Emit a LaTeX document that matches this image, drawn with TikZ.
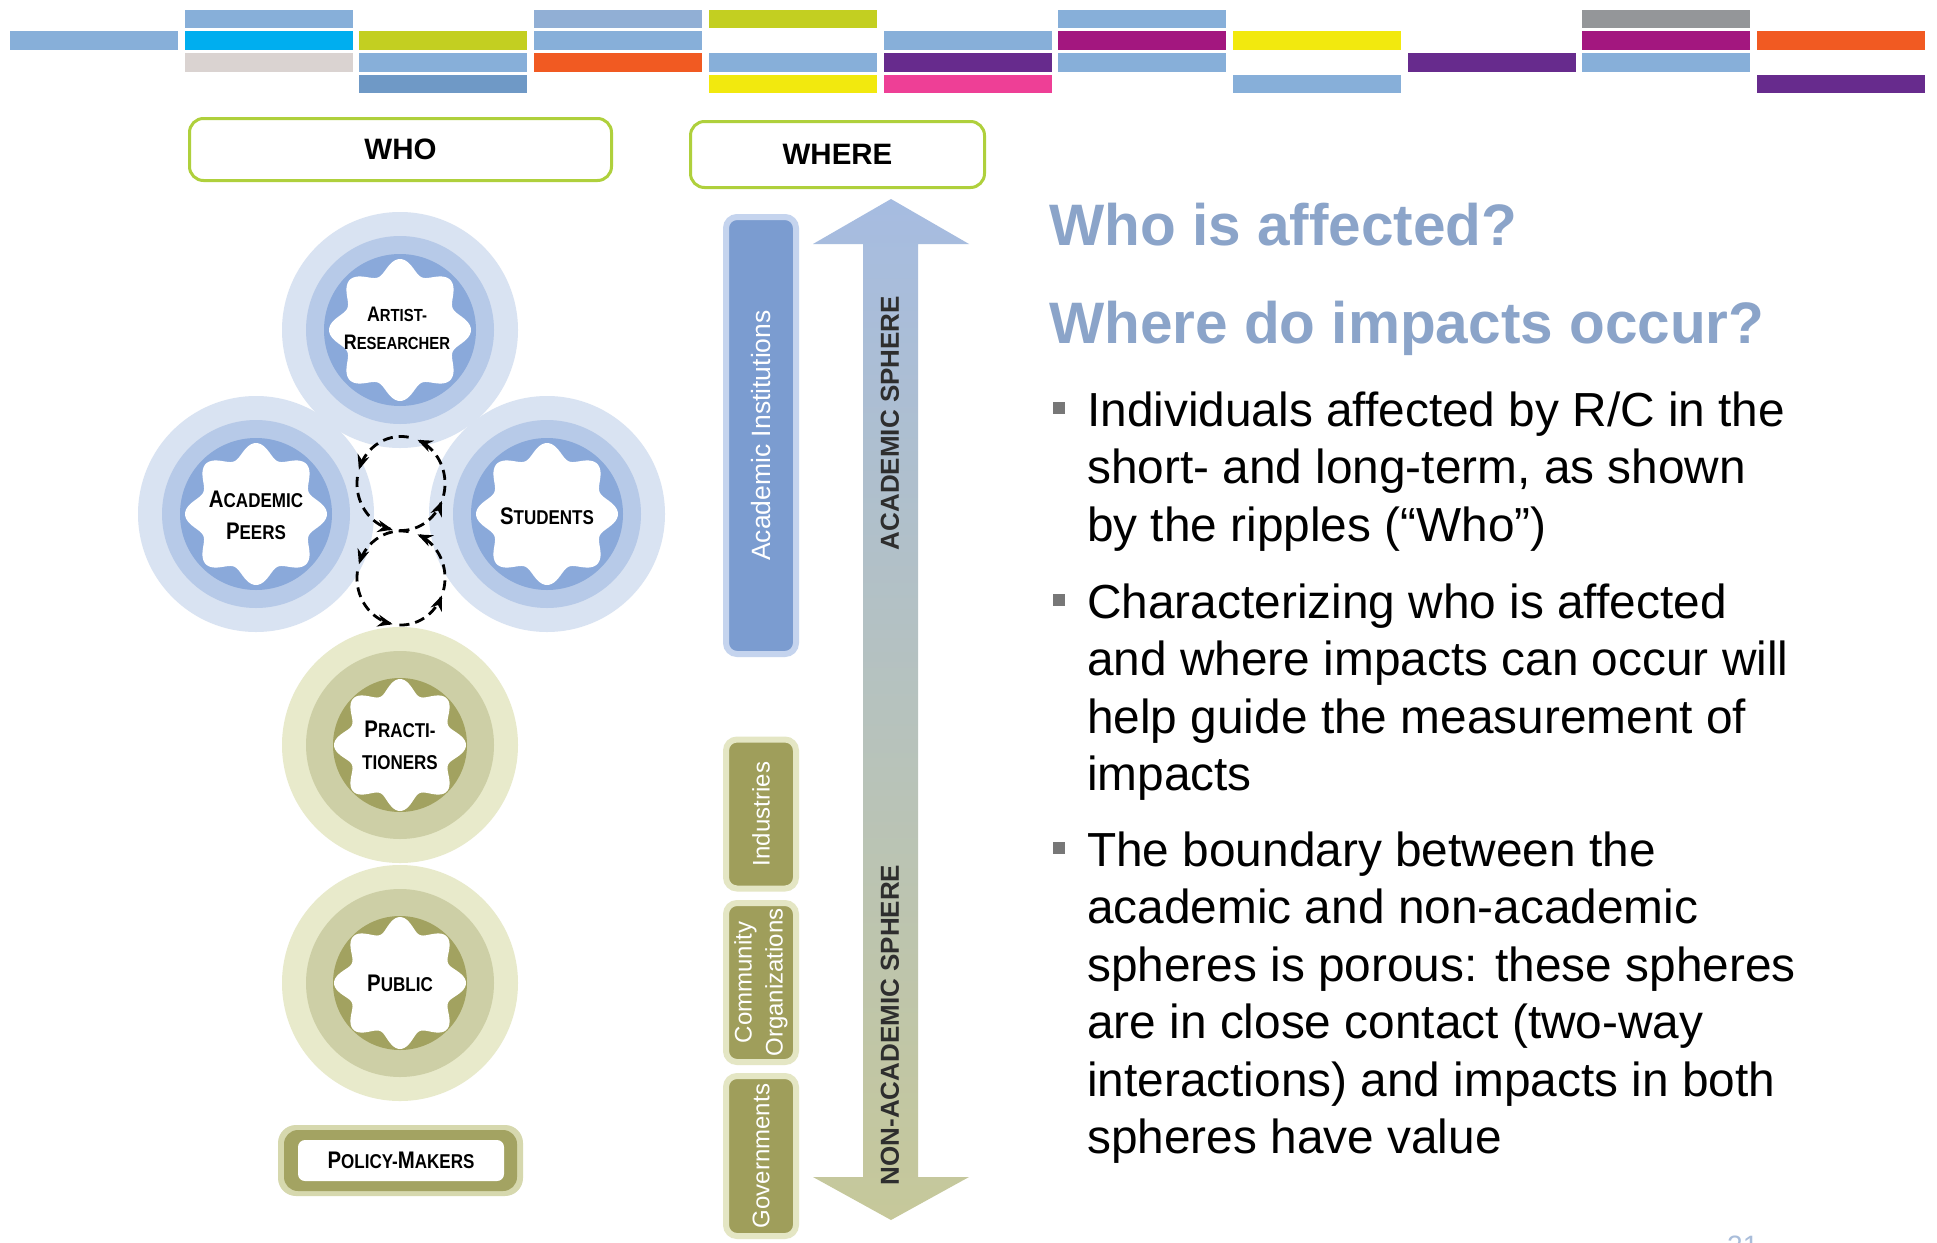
\documentclass[tikz,border=0pt]{standalone}
\usepackage{fontspec}
\setmainfont{Liberation Sans}
\newfontfamily\labfont[FakeStretch=0.85]{Liberation Sans}
\usetikzlibrary{arrows.meta}
\definecolor{lblue}{HTML}{87AFD9}
\definecolor{cyanb}{HTML}{00AEEF}
\definecolor{greyp}{HTML}{DAD3D1}
\definecolor{lgreen}{HTML}{C3CF21}
\definecolor{mblue}{HTML}{6F99C6}
\definecolor{bgrey}{HTML}{91AFD5}
\definecolor{orng}{HTML}{F15A22}
\definecolor{yell}{HTML}{F2E90E}
\definecolor{purp}{HTML}{672B8D}
\definecolor{pinkb}{HTML}{EE3F96}
\definecolor{mag}{HTML}{A3177F}
\definecolor{gry}{HTML}{949699}
\definecolor{blueOut}{HTML}{D9E3F2}
\definecolor{blueRing}{HTML}{B7CAE8}
\definecolor{blueIn}{HTML}{8AA9DA}
\definecolor{grnOut}{HTML}{E8EACB}
\definecolor{grnRing}{HTML}{CDCFA6}
\definecolor{grnIn}{HTML}{A2A260}
\definecolor{polyOut}{HTML}{D6D8AE}
\definecolor{polyBand}{HTML}{A3A362}
\definecolor{aiOut}{HTML}{C5D4EE}
\definecolor{aiIn}{HTML}{7B9CD0}
\definecolor{olOut}{HTML}{E4E6C4}
\definecolor{olIn}{HTML}{9F9E5B}
\definecolor{limeb}{HTML}{AFD03C}
\definecolor{headc}{HTML}{8BA4C9}
\definecolor{bulletc}{HTML}{777777}
\definecolor{arrTop}{HTML}{A6BCE1}
\definecolor{arrMid}{HTML}{B6C2C8}
\definecolor{arrBot}{HTML}{C6C89A}
\definecolor{sphtxt}{HTML}{2E2E2E}
\definecolor{pgnum}{HTML}{A9BDDA}

\newcommand\SC[2]{{\fontsize{24}{32}\selectfont #1}{\fontsize{20}{32}\selectfont #2}}
\newcommand\SCa[2]{{\fontsize{21}{28}\selectfont #1}{\fontsize{17.5}{28}\selectfont #2}}

% x, y, outer colour, ring colour, disc colour, disc radius, star radius
\newcommand\ripple[7]{%
  \fill[#3] (#1,#2) circle[radius=118pt];
  \fill[#4] (#1,#2) circle[radius=94pt];
  \fill[#5] (#1,#2) circle[radius=#6pt];
  \fill[white] plot[domain=0:360,samples=181] ({#1+(#7+7*cos(8*\x))*cos(\x)},{#2+(#7+7*cos(8*\x))*sin(\x)}) -- cycle;
}
\newcommand\looparcs[2]{%
  \foreach \a/\b in {-15/68, 80/163, 172/259, 268/338}
    \draw[loopst] plot[domain=\a:\b, samples=30] ({#1+44*cos(\x)},{#2-47*sin(\x)});
}

\begin{document}
\begin{tikzpicture}[x=1pt,y=-1pt,
  lab/.style={font=\labfont\bfseries\fontsize{24}{32}\selectfont, align=center, inner sep=0pt},
  headbox/.style={draw=limeb, line width=3pt, rounded corners=14pt, fill=white, inner sep=0pt,
    font=\bfseries\fontsize{29.5}{30}\selectfont},
  sidebox/.style={rounded corners=11pt, line width=6pt, rotate=90, inner sep=0pt, text=white,
    align=center, font=\fontsize{24}{31}\selectfont},
  sph/.style={rotate=90, inner sep=0pt, text=sphtxt, font=\bfseries\fontsize{26}{26}\selectfont},
  body/.style={anchor=base west, inner sep=0pt, font=\fontsize{47.8}{57.5}\selectfont},
  heading/.style={anchor=base west, inner sep=0pt, text=headc, font=\bfseries\fontsize{58.5}{60}\selectfont},
  bsq/.style={fill=bulletc},
  loopst/.style={line width=2.8pt, dash pattern=on 10pt off 6pt, -{Stealth[length=15pt,width=12pt]}}]

\fill[white] (0,0) rectangle (1937,1242);
\useasboundingbox (0,0) rectangle (1937,1242);

% top colour bars
\foreach \c/\r/\col in {0/2/lblue, 1/1/lblue, 1/2/cyanb, 1/3/greyp,
  2/2/lgreen, 2/3/lblue, 2/4/mblue, 3/1/bgrey, 3/2/lblue, 3/3/orng,
  4/1/lgreen, 4/3/lblue, 4/4/yell, 5/2/lblue, 5/3/purp, 5/4/pinkb,
  6/1/lblue, 6/2/mag, 6/3/lblue, 7/2/yell, 7/4/lblue, 8/3/purp,
  9/1/gry, 9/2/mag, 9/3/lblue, 10/2/orng, 10/4/purp}
  \fill[\col] ({10+174.7*\c},{9.5+21.8*(\r-1)}) rectangle ++(168,18.5);

% header boxes
\node[headbox, minimum width=422pt, minimum height=62pt] (who) at (400.5,149.5) {WHO};
\node[headbox, minimum width=294pt, minimum height=66pt] (where) at (837.5,154.5) {WHERE};

% ripples
\ripple{400}{745}{grnOut}{grnRing}{grnIn}{67}{59}
\ripple{400}{983}{grnOut}{grnRing}{grnIn}{67}{59}
\ripple{256}{514}{blueOut}{blueRing}{blueIn}{76}{64}
\ripple{547}{514}{blueOut}{blueRing}{blueIn}{76}{64}
\ripple{400}{330}{blueOut}{blueRing}{blueIn}{76}{64}

\node[lab, font=\labfont\bfseries\fontsize{21}{28}\selectfont] (artist) at (397,328) {\SCa{A}{RTIST-}\\\SCa{R}{ESEARCHER}};
\node[lab] (peers) at (256,515) {\SC{A}{CADEMIC}\\\SC{P}{EERS}};
\node[lab] (students) at (547,516) {\SC{S}{TUDENTS}};
\node[lab] (pract) at (400,745) {\SC{P}{RACTI-}\\\SC{}{TIONERS}};
\node[lab] (public) at (400,983) {\SC{P}{UBLIC}};

% policy makers
\fill[polyOut, rounded corners=18pt] (278,1125) rectangle (523,1196);
\fill[polyBand, rounded corners=14pt] (284,1130) rectangle (517,1191);
\fill[white, rounded corners=7pt] (298,1140) rectangle (504,1181);
\node[lab] (policy) at (401,1160.5) {\SC{P}{OLICY-}\SC{M}{AKERS}};

% circulation loops
\looparcs{401}{483.5}
\looparcs{401}{578}

% where column
\node[sidebox, draw=aiOut, fill=aiIn, minimum width=437pt, minimum height=70pt,
  font=\fontsize{26.5}{31}\selectfont] (acinst) at (761,435.5) {Academic Institutions};
\node[sidebox, draw=olOut, fill=olIn, minimum width=149pt, minimum height=70pt] (indus) at (761,814) {Industries};
\node[sidebox, draw=olOut, fill=olIn, minimum width=159pt, minimum height=70pt] (commun) at (761,982.5) {Community\\Organizations};
\node[sidebox, draw=olOut, fill=olIn, minimum width=160pt, minimum height=70pt] (govs) at (761,1156) {Governments};

% double arrow
\shade[top color=arrTop, middle color=arrMid, bottom color=arrBot]
  (863,1177) -- (863,244) -- (813,244) -- (891,199) -- (969,244) -- (918,244)
  -- (918,1177) -- (969,1177) -- (891,1220) -- (813,1177) -- cycle;
\node[sph] (acs) at (890,423) {ACADEMIC SPHERE};
\node[sph] (nacs) at (890,1025) {NON-ACADEMIC SPHERE};

% right text
\node[heading] (h1) at (1049,245) {Who is affected?};
\node[heading] (h2) at (1049,343) {Where do impacts occur?};

\fill[bsq] (1053,402) rectangle (1065,414);
\node[body] (b1a) at (1087,426) {Individuals affected by R/C in the};
\node[body] (b1b) at (1087,483.5) {short- and long-term, as shown};
\node[body] (b1c) at (1087,541) {by the ripples (“Who”)};

\fill[bsq] (1053,594) rectangle (1065,606);
\node[body] (b2a) at (1087,618) {Characterizing who is affected};
\node[body] (b2b) at (1087,675.5) {and where impacts can occur will};
\node[body] (b2c) at (1087,733) {help guide the measurement of};
\node[body] (b2d) at (1087,790.5) {impacts};

\fill[bsq] (1053,842) rectangle (1065,854);
\node[body] (b3a) at (1087,866) {The boundary between the};
\node[body] (b3b) at (1087,923.5) {academic and non-academic};
\node[body] (b3c) at (1087,981) {spheres is porous: these spheres};
\node[body] (b3d) at (1087,1038.5) {are in close contact (two-way};
\node[body] (b3e) at (1087,1096) {interactions) and impacts in both};
\node[body] (b3f) at (1087,1153.5) {spheres have value};

\node[anchor=north west, inner sep=0pt, text=pgnum, font=\fontsize{28}{28}\selectfont] (pg) at (1727,1236) {21};
\end{tikzpicture}
\end{document}
